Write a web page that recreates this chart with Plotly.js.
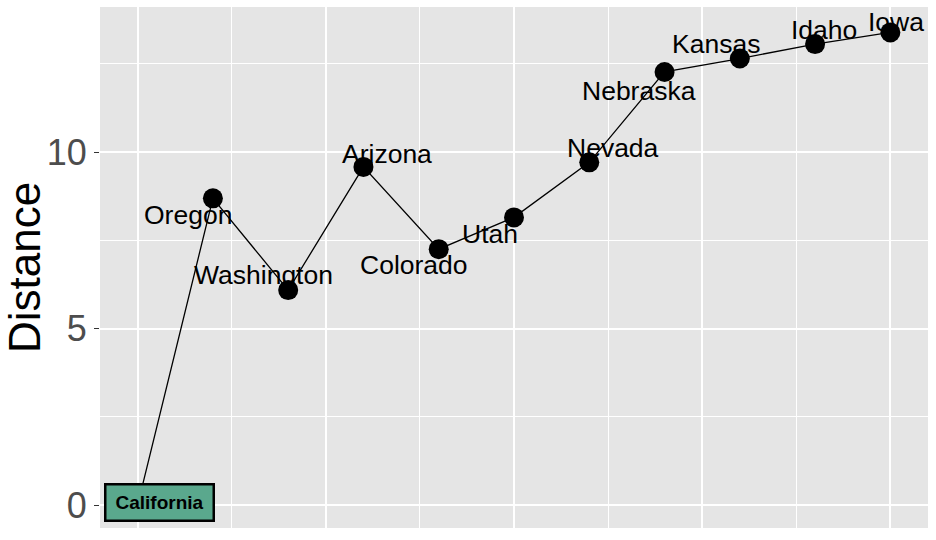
<!DOCTYPE html>
<html>
<head>
<meta charset="utf-8">
<script src="https://cdn.plot.ly/plotly-3.0.1.min.js"></script>
<style>
  html, body { margin: 0; padding: 0; background: #fff; }
  #chart { width: 936px; height: 540px; }
</style>
</head>
<body>
<div id="chart"></div>
<script>
// states in route order, x is the stop index
let states = ['California', 'Oregon', 'Washington', 'Arizona', 'Colorado', 'Utah',
              'Nevada', 'Nebraska', 'Kansas', 'Idaho', 'Iowa'];
let stops = [0, 1, 2, 3, 4, 5, 6, 7, 8, 9, 10];
let distance = [0, 8.69, 6.09, 9.58, 7.25, 8.15, 9.71, 12.27, 12.65, 13.06, 13.39];

// pixel nudges for the repelled labels (first one is the boxed label)
let nudgeX = [22, -25, -25, 24, -25, -24, 24, -26, -24, 9, 6];
let nudgeY = [3, -17, 15, 13, -16, -17, 14, -19, 15, 14, 10];

let fontFam = 'Liberation Sans, Arial, sans-serif';

let data = [{
    x: stops,
    y: distance,
    mode: 'lines+markers',
    type: 'scatter',
    line: { color: '#000', width: 1.3 },
    marker: { color: '#000', size: 20 },
    hoverinfo: 'skip',
}];

let annotations = states.map(function (s, i) {
    let a = {
        x: stops[i],
        y: distance[i],
        text: s,
        showarrow: false,
        xshift: nudgeX[i],
        yshift: nudgeY[i],
        font: { family: fontFam, size: 26.5, color: '#000' },
    };
    if (i === 0) {
        a.text = '<b>' + s + '</b>';
        a.font = { family: fontFam, size: 19, color: '#000' };
        a.bgcolor = '#5aa88d';
        a.bordercolor = '#000';
        a.borderwidth = 2.5;
        a.borderpad = 5;
        a.width = 96;
        a.height = 24;
    }
    return a;
});

let layout = {
    width: 936,
    height: 540,
    margin: { l: 100, r: 8, t: 7, b: 12, pad: 0 },
    paper_bgcolor: '#fff',
    plot_bgcolor: '#e5e5e5',
    showlegend: false,
    font: { family: fontFam },
    xaxis: {
        range: [-0.5, 10.5],
        tick0: 0,
        dtick: 2.5,
        showticklabels: false,
        ticks: '',
        zeroline: false,
        showline: false,
        gridcolor: '#fff',
        gridwidth: 2,
        minor: { dtick: 1.25, tick0: 0, showgrid: true, gridcolor: '#fff', gridwidth: 1 },
    },
    yaxis: {
        range: [-0.65, 14.11],
        tick0: 0,
        dtick: 5,
        ticks: 'outside',
        ticklen: 5,
        tickwidth: 1,
        tickcolor: '#333',
        ticklabelstandoff: 0,
        tickfont: { family: fontFam, size: 36, color: '#4d4d4d' },
        zeroline: false,
        showline: false,
        gridcolor: '#fff',
        gridwidth: 2,
        minor: { dtick: 2.5, tick0: 0, showgrid: true, gridcolor: '#fff', gridwidth: 1 },
        title: { text: 'Distance', font: { family: fontFam, size: 44, color: '#000' }, standoff: 14 },
    },
    annotations: annotations,
};

Plotly.newPlot('chart', data, layout, { staticPlot: true, displayModeBar: false });
</script>
</body>
</html>
